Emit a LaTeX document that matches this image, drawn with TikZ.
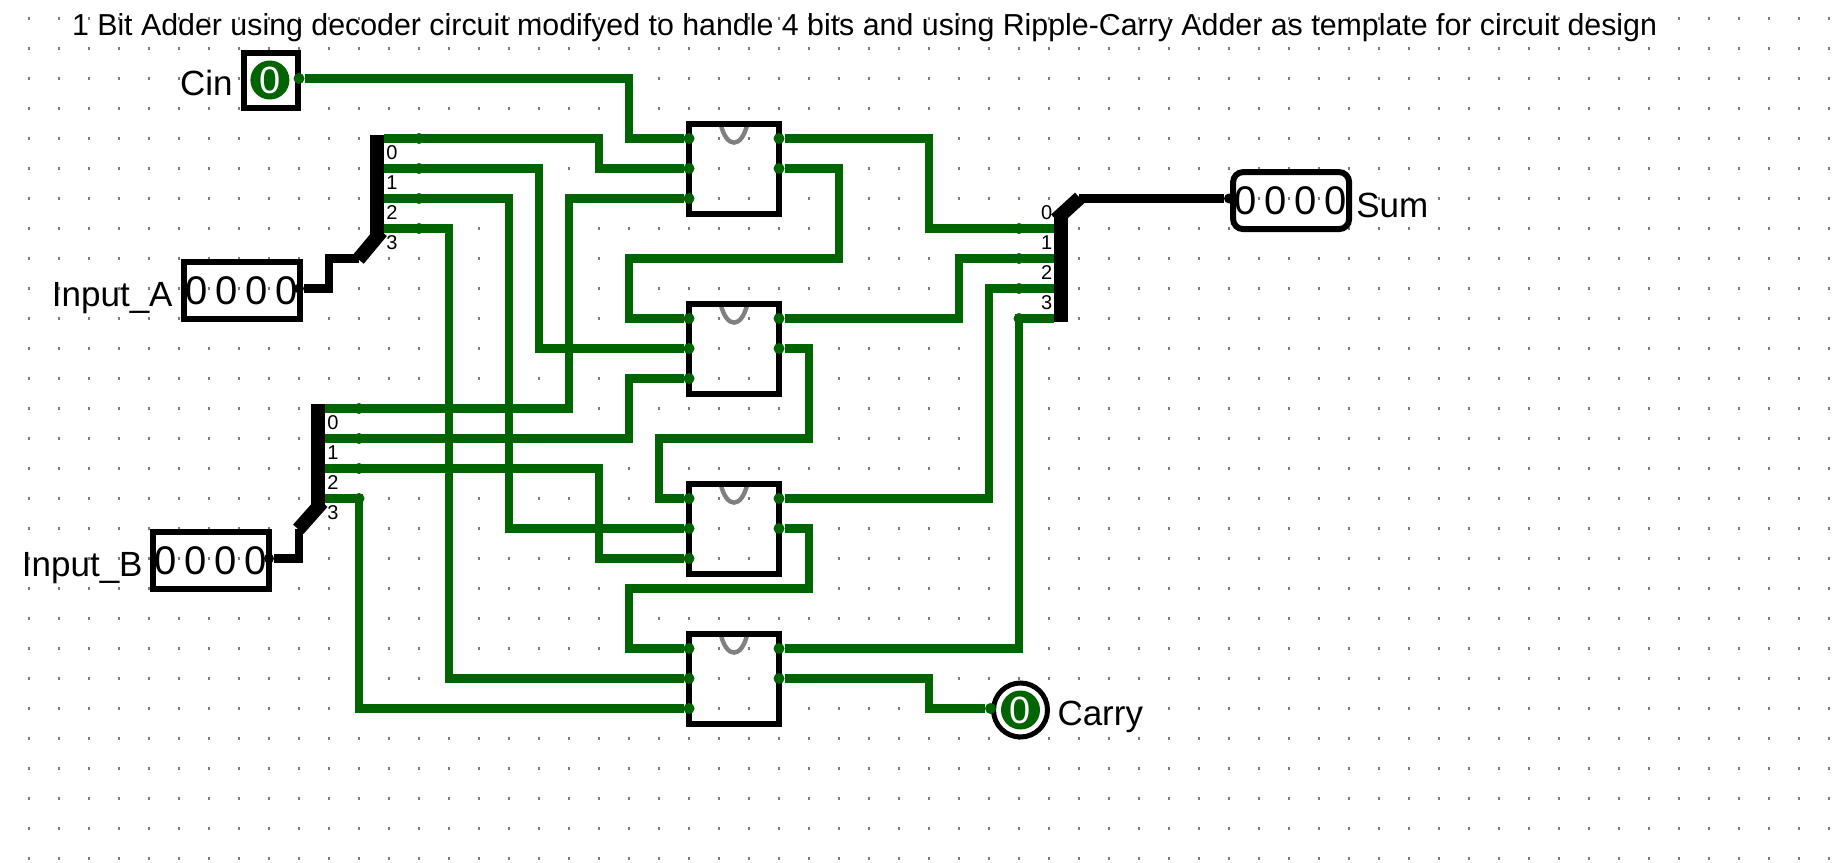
\documentclass[tikz,border=0pt]{standalone}
\usepackage{fontspec}
\setmainfont{Liberation Sans}
\definecolor{wireG}{RGB}{0,100,0}
\definecolor{dotG}{RGB}{125,125,125}
\newcommand{\digitF}{\fontsize{20}{20}\selectfont\spaceskip 3.88pt\relax}
\tikzstyle{gateS}=[rectangle,draw,line width=3pt,minimum width=45pt,minimum height=45pt,inner sep=0pt,outer sep=0pt]
\tikzstyle{pinS}=[circle,fill=wireG,minimum size=5.5pt,inner sep=0pt,outer sep=0pt]
\tikzstyle{busPS}=[circle,fill=black,minimum size=5pt,inner sep=0pt,outer sep=0pt]
\tikzstyle{wireS}=[draw=wireG,line width=4.1pt]
\tikzstyle{busS}=[draw=black,line width=4.4pt]
\tikzstyle{diagS}=[draw=black,line width=7pt,line cap=rect,shorten <=3pt]
\tikzstyle{barS}=[rectangle,fill=black,minimum width=7pt,inner sep=0pt,outer sep=0pt]
\tikzstyle{arcS}=[draw=gray,line width=2.2pt]
\tikzstyle{boxS}=[rectangle,draw,line width=3pt,minimum height=28.5pt,minimum width=58pt,inner sep=0pt,outer sep=0pt,font=\digitF]
\tikzstyle{ledS}=[circle,fill=wireG,text=white,minimum size=19.5pt,inner sep=0pt,outer sep=0pt,font=\fontsize{19}{19}\selectfont]
\tikzstyle{labelS}=[inner sep=0pt,font=\fontsize{17.5}{17.5}\selectfont]
\tikzstyle{titleS}=[inner sep=0pt,font=\fontsize{15.17}{15.17}\selectfont]
\tikzstyle{numS}=[inner sep=0pt,font=\fontsize{10}{10}\selectfont]
\begin{document}
\begin{tikzpicture}[x=15pt,y=-15pt]
    \path[use as bounding box,fill=white] (0.0333,-0.6167) rectangle (61.6,28.1167);
    % dotted canvas
    \foreach \i in {0,...,61}
        \foreach \j in {0,...,28}
            \fill[dotG] (\i-0.035,\j-0.035) rectangle ++(0.07,0.07);

    \draw (2.42,0.56) node[titleS,anchor=base west] (title) {1 Bit Adder using decoder circuit modifyed to handle 4 bits and using Ripple-Carry Adder as template for circuit design};

    % inputs and outputs
    \draw (9.07,2.07) node[boxS,minimum width=27pt,minimum height=27.5pt] (cinB) {};
    \draw (9.03,2.05) node[ledS] (cinL) {0};
    \draw (8.09,9.08) node[boxS] (inA) {0 0 0 0};
    \draw (7.07,18.07) node[boxS] (inB) {0 0 0 0};
    \draw (43.07,6.07) node[boxS,rounded corners=5pt] (sumB) {0 0 0 0};
    \draw (34.05,23.05) node[circle,draw,line width=2.5pt,minimum size=27pt,inner sep=0pt,outer sep=0pt] (carB) {};
    \draw (carB.center) node[ledS] (carL) {0};

    \draw (7.8,2.573) node[labelS,anchor=base east] (cinT) {Cin};
    \draw (5.8,9.607) node[labelS,anchor=base east] (inAT) {Input\_A};
    \draw (4.8,18.607) node[labelS,anchor=base east] (inBT) {Input\_B};
    \draw (45.23,6.617) node[labelS,anchor=base west] (sumT) {Sum};
    \draw (35.27,23.55) node[labelS,anchor=base west] (carT) {Carry};

    % gates
    \draw[arcS] (24.05,3.5) .. controls +(0.2,0.85) and +(-0.2,0.85) .. +(0.9,0);
    \draw[arcS] (24.05,9.5) .. controls +(0.2,0.85) and +(-0.2,0.85) .. +(0.9,0);
    \draw[arcS] (24.05,15.5) .. controls +(0.2,0.85) and +(-0.2,0.85) .. +(0.9,0);
    \draw[arcS] (24.05,20.5) .. controls +(0.2,0.85) and +(-0.2,0.85) .. +(0.9,0);
    \draw (24.5,5) node[gateS] (g1) {};
    \draw (24.5,11) node[gateS] (g2) {};
    \draw (24.5,17) node[gateS] (g3) {};
    \draw (24.5,22) node[gateS] (g4) {};

    \draw (23,4) node[pinS] (g1a) {};
    \draw (23,5) node[pinS] (g1b) {};
    \draw (23,6) node[pinS] (g1c) {};
    \draw (26,4) node[pinS] (g1x) {};
    \draw (26,5) node[pinS] (g1y) {};
    \draw (23,10) node[pinS] (g2a) {};
    \draw (23,11) node[pinS] (g2b) {};
    \draw (23,12) node[pinS] (g2c) {};
    \draw (26,10) node[pinS] (g2x) {};
    \draw (26,11) node[pinS] (g2y) {};
    \draw (23,16) node[pinS] (g3a) {};
    \draw (23,17) node[pinS] (g3b) {};
    \draw (23,18) node[pinS] (g3c) {};
    \draw (26,16) node[pinS] (g3x) {};
    \draw (26,17) node[pinS] (g3y) {};
    \draw (23,21) node[pinS] (g4a) {};
    \draw (23,22) node[pinS] (g4b) {};
    \draw (23,23) node[pinS] (g4c) {};
    \draw (26,21) node[pinS] (g4x) {};
    \draw (26,22) node[pinS] (g4y) {};

    % splitters
    \draw (12.6,5.58) node[barS,minimum height=51pt] (barA) {};
    \draw (10.62,14.58) node[barS,minimum height=51.6pt] (barB) {};
    \draw (35.4,8.335) node[barS,minimum height=53.6pt] (barC) {};
    \draw (12,8) coordinate (jA);
    \draw (10,17) coordinate (jB);
    \draw (36,6) coordinate (jC);
    \foreach \k in {0,1,2,3} {
        \pgfmathsetmacro{\ya}{4+\k}
        \pgfmathsetmacro{\yb}{13+\k}
        \pgfmathsetmacro{\yc}{7+\k}
        \node[pinS] (sA\k) at (14,\ya) {};
        \node[pinS] (sB\k) at (12,\yb) {};
        \node[pinS] (sC\k) at (34,\yc) {};
        \node[numS] (nA\k) at (13.1,\ya+0.48) {\k};
        \node[numS] (nB\k) at (11.13,\yb+0.48) {\k};
        \node[numS] (nC\k) at (34.92,\yc-0.52) {\k};
    }

    \draw (10,2) node[pinS] (pCin) {};
    \draw (33.05,23) node[pinS] (pCar) {};
    \draw (10,9) node[busPS] (pA) {};
    \draw (9,18) node[busPS] (pB) {};
    \draw (41,6) node[busPS] (pC) {};

    % wires to first inputs and from the splitters
    \draw[wireS] (pCin) -- (21,2) |- (g1a);
    \draw[wireS] (sA0 -| barA.east) -- (20,4) |- (g1b);
    \draw[wireS] (sA1 -| barA.east) -- (18,5) |- (g2b);
    \draw[wireS] (sA2 -| barA.east) -- (17,6) |- (g3b);
    \draw[wireS] (sA3 -| barA.east) -- (15,7) |- (g4b);
    \draw[wireS] (sB0 -| barB.east) -- (19,13) |- (g1c);
    \draw[wireS] (sB1 -| barB.east) -- (21,14) |- (g2c);
    \draw[wireS] (sB2 -| barB.east) -- (20,15) |- (g3c);
    \draw[wireS] (sB3 -| barB.east) -- (12,16) |- (g4c);

    % carry chain
    \draw[wireS] (g1y) -- (28,5) -- (28,8) -- (21,8) |- (g2a);
    \draw[wireS] (g2y) -- (27,11) -- (27,14) -- (22,14) |- (g3a);
    \draw[wireS] (g3y) -- (27,17) -- (27,19) -- (21,19) |- (g4a);
    \draw[wireS] (g4y) -- (31,22) |- (pCar);

    % sum bits
    \draw[wireS] (g1x) -- (31,4) |- (sC0 -| barC.west);
    \draw[wireS] (g2x) -- (32,10) |- (sC1 -| barC.west);
    \draw[wireS] (g3x) -- (33,16) |- (sC2 -| barC.west);
    \draw[wireS] (g4x) -- (34,21) |- (sC3 -| barC.west);

    % buses
    \draw[busS] (pA) -- (11,9) |- (jA);
    \draw[busS] (pB) -- (10,18) -- (jB);
    \draw[busS] (jC) -- (pC);
    \draw[diagS] (jA) -- (barA.south);
    \draw[diagS] (jB) -- (barB.south);
    \draw[diagS] (jC) -- (barC.north);
\end{tikzpicture}
\end{document}
